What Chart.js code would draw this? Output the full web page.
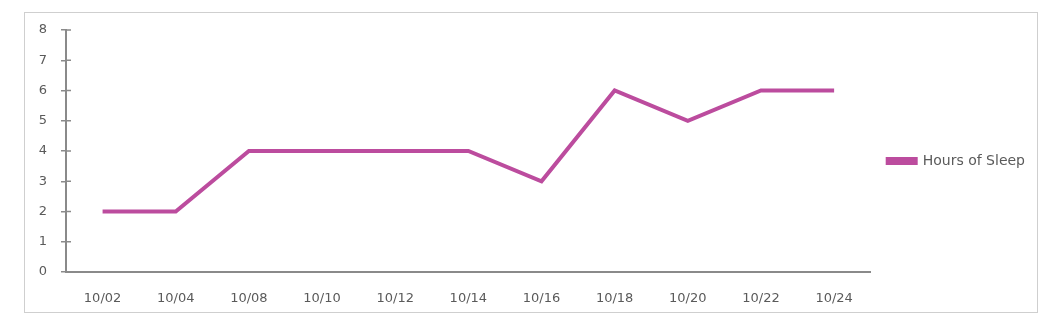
<!DOCTYPE html>
<html>
<head>
<meta charset="utf-8">
<script src="https://cdn.jsdelivr.net/npm/chart.js@4"></script>
<style>
  html, body { margin: 0; padding: 0; background: #fff; }
  #wrap { position: relative; width: 1044px; height: 314px; }
  #frame { position: absolute; left: 24px; top: 12px; width: 1012px; height: 299px; border: 1.5px solid #cfcfcf; }
  canvas { position: absolute; left: 0; top: 0; }
</style>
</head>
<body>
<div id="wrap">
  <div id="frame"></div>
  <canvas id="sleepChart" width="1044" height="314"></canvas>
</div>
<script>
// chart data
const dates = ['10/02', '10/04', '10/08', '10/10', '10/12', '10/14', '10/16', '10/18', '10/20', '10/22', '10/24'];
const hoursOfSleep = [2, 2, 4, 4, 4, 4, 3, 6, 5, 6, 6];
const seriesName = 'Hours of Sleep';

const lineColor = '#bc4c9e';
const axisColor = '#8a8a8a';
const textColor = '#5a5a5a';
const fontFamily = 'DejaVu Sans';

// little tick marks on the right side of the y axis, so they cross it
const crossTicks = {
    id: 'crossTicks',
    afterDraw(chart) {
        const y = chart.scales.y;
        const ctx = chart.ctx;
        ctx.save();
        ctx.strokeStyle = axisColor;
        ctx.lineWidth = 1.5;
        y.ticks.forEach(t => {
            const py = y.getPixelForValue(t.value);
            ctx.beginPath();
            ctx.moveTo(y.right, py);
            ctx.lineTo(y.right + 5, py);
            ctx.stroke();
        });
        ctx.restore();
    }
};

// centre the legend on the plot area instead of the whole right column
const legendToPlot = {
    id: 'legendToPlot',
    afterLayout(chart) {
        if (chart.legend) {
            chart.legend.bottom = chart.chartArea.bottom + 20;
        }
    }
};

const ctx = document.getElementById('sleepChart').getContext('2d');
const sleepChart = new Chart(ctx, {
    type: 'line',
    data: {
        labels: dates,
        datasets: [{
            label: seriesName,
            data: hoursOfSleep,
            borderColor: lineColor,
            backgroundColor: lineColor,
            borderWidth: 4,
            pointRadius: 0,
            tension: 0
        }]
    },
    options: {
        responsive: false,
        animation: false,
        layout: { padding: { top: 30, right: 9, bottom: 0, left: 0 } },
        plugins: {
            tooltip: { enabled: false },
            legend: {
                position: 'right',
                labels: {
                    boxWidth: 28,
                    boxHeight: 4,
                    padding: 17,
                    color: textColor,
                    font: { family: fontFamily, size: 14 }
                }
            }
        },
        scales: {
            x: {
                offset: true,
                grid: { display: false },
                border: { color: axisColor, width: 2 },
                ticks: {
                    color: textColor,
                    padding: 11,
                    maxRotation: 0,
                    font: { family: fontFamily, size: 13 }
                },
                afterFit(scale) { scale.height = 42; }
            },
            y: {
                min: 0,
                max: 8,
                grid: {
                    drawOnChartArea: false,
                    color: axisColor,
                    lineWidth: 1.5,
                    tickLength: 5
                },
                border: { color: axisColor, width: 2 },
                ticks: {
                    stepSize: 1,
                    color: textColor,
                    padding: 14,
                    font: { family: fontFamily, size: 13 }
                },
                afterFit(scale) { scale.width = 66; }
            }
        }
    },
    plugins: [crossTicks, legendToPlot]
});
</script>
</body>
</html>
